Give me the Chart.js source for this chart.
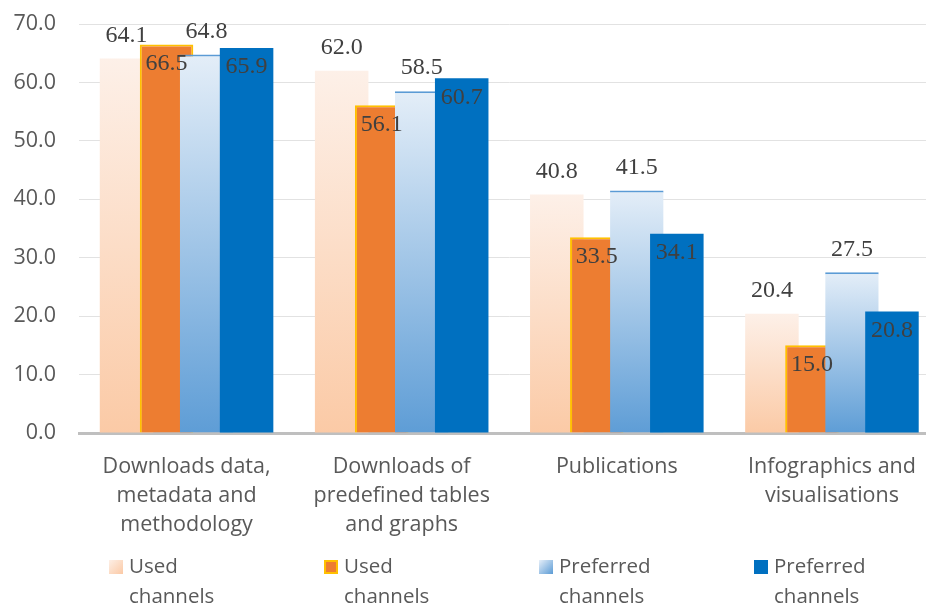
<!DOCTYPE html>
<html>
<head>
<meta charset="utf-8">
<title>Used and preferred channels</title>
<script src="https://cdn.jsdelivr.net/npm/chart.js@4.4.1/dist/chart.umd.min.js"></script>
<style>
    html, body { margin: 0; padding: 0; background: #ffffff; overflow: hidden; }
    #wrap { position: relative; width: 950px; height: 606px; }
</style>
</head>
<body>
<div id="wrap"><canvas id="channelsChart" width="950" height="606"></canvas></div>
<script>
// Chart data
const categories = [
    ['Downloads data,', 'metadata and', 'methodology'],
    ['Downloads of', 'predefined tables', 'and graphs'],
    ['Publications'],
    ['Infographics and', 'visualisations']
];
const seriesNames = [
    ['Used', 'channels'],
    ['Used', 'channels'],
    ['Preferred', 'channels'],
    ['Preferred', 'channels']
];
const usedLight = [64.1, 62.0, 40.8, 20.4];
const usedOrange = [66.5, 56.1, 33.5, 15.0];
const preferredLight = [64.8, 58.5, 41.5, 27.5];
const preferredBlue = [65.9, 60.7, 34.1, 20.8];
const yTicks = [0, 10, 20, 30, 40, 50, 60, 70];

const SANS = '"Open Sans", "Noto Sans", sans-serif';
const SERIF = '"Liberation Serif", "DejaVu Serif", serif';
const TEXT_GREY = '#595959';

// Vertical gradient per bar, from the bar top down to zero
function barGradient(topColor, bottomColor) {
    return (context) => {
        const chart = context.chart;
        const y = chart.scales && chart.scales.y;
        if (!chart.chartArea || !y || typeof context.raw !== 'number') {
            return bottomColor;
        }
        const yTop = y.getPixelForValue(context.raw);
        const yBottom = y.getPixelForValue(0);
        const g = chart.ctx.createLinearGradient(0, yTop, 0, yBottom);
        g.addColorStop(0, topColor);
        g.addColorStop(1, bottomColor);
        return g;
    };
}

// Excel draws later series on top of earlier ones
const drawOrderPlugin = {
    id: 'drawOrder',
    beforeDatasetsDraw(chart) {
        chart.data.datasets.forEach((ds, i) => {
            const meta = chart.getDatasetMeta(i);
            if (!meta.hidden) meta.controller.draw();
        });
        return false;
    }
};

// Value labels: light series above the bar, solid series inside the top
const labelsInside = [false, true, false, true];
const valueLabelPlugin = {
    id: 'valueLabels',
    afterDraw(chart) {
        const ctx = chart.ctx;
        ctx.save();
        ctx.font = '24px ' + SERIF;
        ctx.fillStyle = '#404040';
        ctx.textAlign = 'center';
        ctx.textBaseline = 'middle';
        chart.data.datasets.forEach((ds, i) => {
            chart.getDatasetMeta(i).data.forEach((bar, j) => {
                const y = labelsInside[i] ? bar.y + 19 : bar.y - 23;
                ctx.fillText(ds.data[j].toFixed(1), bar.x, y);
            });
        });
        ctx.restore();
    }
};

// Two-line legend under the axis labels
const legendPlugin = {
    id: 'wrappedLegend',
    afterDraw(chart) {
        const ctx = chart.ctx;
        const xScale = chart.scales.x;
        const swatch = [
            ['#FDEFE6', '#FBC9A5', null],
            ['#ED7D31', '#ED7D31', '#FFC000'],
            ['#E6EFF9', '#5B9BD5', null],
            ['#0070C0', '#0070C0', null]
        ];
        ctx.save();
        ctx.font = '20.5px ' + SANS;
        ctx.textBaseline = 'middle';
        seriesNames.forEach((lines, i) => {
            const x = Math.round(xScale.getPixelForValue(i) - 78);
            const top = 560;
            const g = ctx.createLinearGradient(x, top, x + 14, top + 14);
            g.addColorStop(0, swatch[i][0]);
            g.addColorStop(1, swatch[i][1]);
            ctx.fillStyle = g;
            ctx.fillRect(x, top, 14, 14);
            if (swatch[i][2]) {
                ctx.strokeStyle = swatch[i][2];
                ctx.lineWidth = 2;
                ctx.strokeRect(x + 1, top + 1, 12, 12);
            }
            ctx.fillStyle = TEXT_GREY;
            ctx.fillText(lines[0], x + 20, 567);
            ctx.fillText(lines[1], x + 20, 597);
        });
        ctx.restore();
    }
};

const datasetDefaults = {
    categoryPercentage: 0.744,
    barPercentage: 1.3375,
    borderSkipped: 'bottom'
};

new Chart(document.getElementById('channelsChart'), {
    type: 'bar',
    data: {
        labels: categories,
        datasets: [
            Object.assign({
                label: seriesNames[0].join(' '),
                data: usedLight,
                backgroundColor: barGradient('#FDF0E8', '#FBCAA6'),
                borderWidth: 0
            }, datasetDefaults),
            Object.assign({
                label: seriesNames[1].join(' '),
                data: usedOrange,
                backgroundColor: '#ED7D31',
                borderColor: '#FFC000',
                borderWidth: 2
            }, datasetDefaults),
            Object.assign({
                label: seriesNames[2].join(' '),
                data: preferredLight,
                backgroundColor: barGradient('#E4EEF8', '#5E9DD6'),
                borderColor: '#5B9BD5',
                borderWidth: { top: 2, left: 0, right: 0, bottom: 0 }
            }, datasetDefaults),
            Object.assign({
                label: seriesNames[3].join(' '),
                data: preferredBlue,
                backgroundColor: '#0070C0',
                borderWidth: 0
            }, datasetDefaults)
        ]
    },
    options: {
        responsive: false,
        animation: false,
        events: [],
        layout: {
            padding: { top: 24, right: 10.5, bottom: 0, left: 0 }
        },
        plugins: {
            legend: { display: false },
            tooltip: { enabled: false }
        },
        scales: {
            x: {
                grid: { display: false, drawTicks: false },
                border: { display: true, color: '#BFBFBF', width: 3 },
                ticks: {
                    color: TEXT_GREY,
                    font: { family: SANS, size: 21.5, lineHeight: 1.35 },
                    padding: 19,
                    maxRotation: 0,
                    autoSkip: false
                },
                afterFit(scale) { scale.height = 173; }
            },
            y: {
                min: 0,
                max: 70,
                afterBuildTicks(scale) {
                    scale.ticks = yTicks.map(v => ({ value: v }));
                },
                grid: { color: '#E2E2E2', lineWidth: 1, drawTicks: false },
                border: { display: false },
                ticks: {
                    color: TEXT_GREY,
                    font: { family: SANS, size: 21.5 },
                    padding: 23,
                    callback: v => v.toFixed(1)
                },
                afterFit(scale) {
                    scale.width = 79;
                    scale.paddingTop = 0;
                    scale.paddingBottom = 0;
                }
            }
        }
    },
    plugins: [drawOrderPlugin, valueLabelPlugin, legendPlugin]
});
</script>
</body>
</html>
